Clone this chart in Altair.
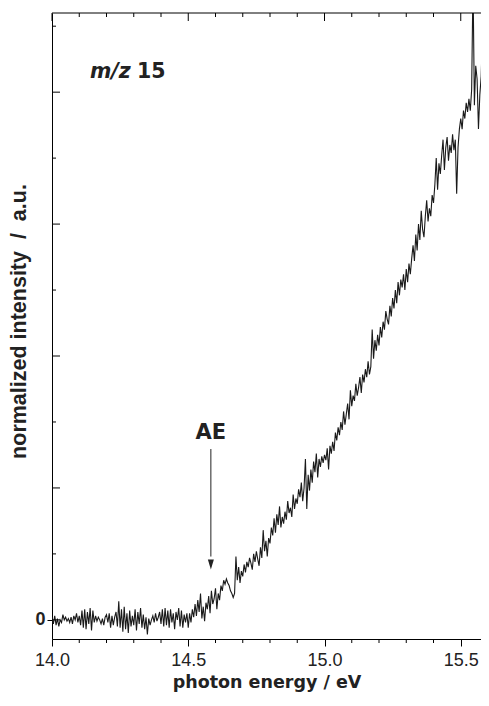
import altair as alt
import pandas as pd

# photon energy grid (scan step) and normalized intensity
energy_start = 14.0
energy_step = 0.005
intensity = [
    # 14.00 - 14.095
    0.02, -0.03, 0.03, -0.04, 0.01, -0.05, 0.00, -0.02, 0.04, 0.00,
    0.02, -0.01, 0.01, -0.02, 0.02, -0.03, 0.03, 0.00, 0.05, -0.02,
    # 14.10 - 14.195
    0.03, -0.04, 0.07, -0.06, 0.08, -0.07, 0.06, -0.03, 0.09, -0.08,
    0.07, -0.02, 0.03, -0.01, 0.02, 0.00, -0.03, 0.01, -0.04, 0.02,
    # 14.20 - 14.295
    0.04, -0.02, 0.05, -0.06, 0.03, -0.04, 0.02, 0.06, -0.05, 0.14,
    -0.06, 0.08, -0.09, 0.10, -0.07, 0.05, -0.10, 0.07, -0.05, 0.03,
    # 14.30 - 14.395
    -0.04, 0.08, -0.08, 0.06, -0.03, 0.09, -0.06, 0.04, -0.07, 0.02,
    -0.11, 0.01, -0.04, 0.00, 0.03, -0.02, 0.05, -0.01, 0.02, 0.06,
    # 14.40 - 14.495
    -0.03, 0.08, -0.05, 0.09, -0.04, 0.07, -0.06, 0.08, -0.02, 0.05,
    -0.07, 0.06, 0.00, 0.09, -0.05, 0.07, -0.06, 0.04, -0.02, 0.05,
    # 14.50 - 14.595
    -0.06, 0.05, -0.02, 0.08, 0.02, 0.12, 0.03, 0.15, 0.06, 0.20,
    0.01, 0.10, -0.01, 0.13, 0.08, 0.18, 0.05, 0.22, 0.12, 0.16,
    # 14.60 - 14.695
    0.24, 0.08, 0.20, 0.15, 0.26, 0.22, 0.30, 0.27, 0.31, 0.28,
    0.26, 0.22, 0.20, 0.17, 0.20, 0.48, 0.30, 0.40, 0.28, 0.37,
    # 14.70 - 14.795
    0.33, 0.42, 0.36, 0.44, 0.40, 0.47, 0.43, 0.38, 0.50, 0.44,
    0.52, 0.46, 0.41, 0.55, 0.47, 0.68, 0.52, 0.60, 0.48, 0.62,
    # 14.80 - 14.895
    0.58, 0.70, 0.64, 0.77, 0.66, 0.80, 0.72, 0.86, 0.70, 0.78,
    0.73, 0.82, 0.76, 0.90, 0.81, 0.85, 0.78, 0.95, 0.84, 0.92,
    # 14.90 - 14.995
    0.88, 0.99, 0.93, 1.04, 0.90, 1.00, 1.22, 0.84, 1.10, 0.98,
    1.14, 1.04, 1.20, 1.12, 1.26, 1.08, 1.22, 1.16, 1.24, 1.19,
    # 15.00 - 15.095
    1.25, 1.21, 1.30, 1.14, 1.32, 1.26, 1.35, 1.28, 1.42, 1.36,
    1.46, 1.40, 1.50, 1.44, 1.58, 1.48, 1.56, 1.64, 1.52, 1.74,
    # 15.10 - 15.195
    1.62, 1.70, 1.66, 1.79, 1.70, 1.76, 1.84, 1.72, 1.86, 1.80,
    1.90, 1.84, 1.96, 1.86, 1.92, 2.20, 1.98, 2.12, 2.04, 2.16,
    # 15.20 - 15.295
    2.08, 2.22, 2.14, 2.26, 2.20, 2.34, 2.28, 2.24, 2.38, 2.30,
    2.44, 2.36, 2.50, 2.40, 2.56, 2.46, 2.58, 2.52, 2.62, 2.50,
    # 15.30 - 15.395
    2.66, 2.56, 2.70, 2.62, 2.74, 2.84, 2.72, 2.92, 2.80, 3.00,
    2.88, 3.10, 2.96, 2.90, 3.06, 3.18, 3.02, 3.12, 3.06, 3.22,
    # 15.40 - 15.495
    3.16, 3.30, 3.50, 3.26, 3.46, 3.38, 3.52, 3.64, 3.41, 3.58,
    3.66, 3.48, 3.60, 3.54, 3.68, 3.56, 3.64, 3.23, 3.58, 3.72,
    # 15.50 - 15.595
    3.80, 3.72, 3.86, 3.80, 3.92, 3.85, 3.95, 3.86, 4.02, 4.85,
    3.90, 4.20, 4.10, 3.72, 3.98, 4.12, 4.48, 4.40, 4.32, 3.86,
    # 15.60
    4.05,
]
energy = [round(energy_start + i * energy_step, 3) for i in range(len(intensity))]

x_major = [14.0, 14.5, 15.0, 15.5]
x_minor = [14.1, 14.2, 14.3, 14.4, 14.6, 14.7, 14.8, 14.9, 15.1, 15.2, 15.3, 15.4]
y_major = [0, 1, 2, 3, 4]
y_minor = [0.5, 1.5, 2.5, 3.5, 4.5]
y_labeled = [0]

# annotations (data coordinates)
ae_label = ["AE"]
ae_energy = [14.583]
ae_text_y = [1.42]
ae_arrow_top = [1.295]
ae_arrow_bottom = [0.48]
ae_head_y = [0.42]
mz_italic = ["m/z"]
mz_number = ["15"]
mz_energy = [14.139]
mz_number_energy = [14.312]
mz_y = [4.106]

W, H = 429, 626
X_DOMAIN = [14.0, 15.5743]
Y_DOMAIN = [-0.145, 4.6]
FONT = "Liberation Sans"
WIDE = "DejaVu Sans"

xs = alt.Scale(domain=X_DOMAIN, nice=False, zero=False)
ys = alt.Scale(domain=Y_DOMAIN, nice=False, zero=False)

x_axis = alt.Axis(values=x_major, format=".1f", tickSize=7, tickColor="black",
                  tickWidth=1, domain=True, domainColor="black", grid=False,
                  labelFont=FONT, labelFontSize=18, labelColor="#222",
                  labelPadding=5, labelFlush=False,
                  title="photon energy / eV", titleFont=WIDE,
                  titleFontSize=17.5, titleFontWeight="bold", titleColor="#222",
                  titleBaseline="middle", titleY=43)
y_axis = alt.Axis(values=y_labeled, format="d", tickSize=5, tickColor="black",
                  domain=True, domainColor="black", grid=False,
                  labelFont=FONT, labelFontSize=18, labelFontWeight="bold",
                  labelColor="#222", labelPadding=2, labelFlush=False,
                  title="normalized intensity \u00a0/\u00a0 a.u.", titleFont=FONT,
                  titleFontSize=21.5, titleFontWeight="bold", titleColor="#222",
                  titleBaseline="middle", titleX=-33, titleY=308)

def X(field):
    return alt.X(field, type="quantitative", scale=xs, axis=x_axis)

def Y(field):
    return alt.Y(field, type="quantitative", scale=ys, axis=y_axis)

df = pd.DataFrame({"energy": energy, "intensity": intensity})

line = alt.Chart(df).mark_line(color="#1a1a1a", strokeWidth=1.1, clip=True).encode(
    x=X("energy"), y=Y("intensity"))

def rules_x(vals, y0, y1):
    d = pd.DataFrame({"energy": vals})
    return alt.Chart(d).mark_rule(color="black", strokeWidth=1).encode(
        x=X("energy"), y=alt.value(y0), y2=alt.value(y1))

def rules_y(vals, x0, x1):
    d = pd.DataFrame({"intensity": vals})
    return alt.Chart(d).mark_rule(color="black", strokeWidth=1).encode(
        y=Y("intensity"), x=alt.value(x0), x2=alt.value(x1))

bottom_minor = rules_x(x_minor, H, H + 4)
top_major = rules_x(x_major, 0, 8)
top_minor = rules_x(x_minor, 0, 4)
left_major = rules_y(y_major, 0, 8)
left_minor = rules_y(y_minor, 0, 4)
top_frame = alt.Chart(pd.DataFrame({"k": [0]})).mark_rule(color="black", strokeWidth=1).encode(
    x=alt.value(0), x2=alt.value(W), y=alt.value(0))

ae_df = pd.DataFrame({"label": ae_label, "energy": ae_energy, "ty": ae_text_y,
                      "top": ae_arrow_top, "bottom": ae_arrow_bottom, "head": ae_head_y})
ae_text = alt.Chart(ae_df).mark_text(font=WIDE, fontSize=21, fontWeight="bold",
                                     color="#222", baseline="middle", align="center").encode(
    x=X("energy"), y=Y("ty"), text="label:N")
ae_rule = alt.Chart(ae_df).mark_rule(color="#222", strokeWidth=1).encode(
    x=X("energy"), y=Y("top"), y2="bottom:Q")
ae_head = alt.Chart(ae_df).mark_point(shape="M -0.6 -1 L 0.6 -1 L 0 1 Z", size=100,
                                      filled=True, color="#222", opacity=1).encode(
    x=X("energy"), y=Y("head"))

mz_df = pd.DataFrame({"a": mz_italic, "b": mz_number, "xa": mz_energy,
                      "xb": mz_number_energy, "y": mz_y})
mz_a = alt.Chart(mz_df).mark_text(font=WIDE, fontSize=20.5, fontWeight="bold", fontStyle="italic",
                                  color="#222", align="left", baseline="alphabetic").encode(
    x=X("xa"), y=Y("y"), text="a:N")
mz_b = alt.Chart(mz_df).mark_text(font=WIDE, fontSize=20.5, fontWeight="bold",
                                  color="#222", align="left", baseline="alphabetic").encode(
    x=X("xb"), y=Y("y"), text="b:N")

chart = alt.layer(
    line, bottom_minor, top_major, top_minor, left_major, left_minor, top_frame,
    ae_rule, ae_head, ae_text, mz_a, mz_b,
).properties(
    width=W, height=H,
    autosize=alt.AutoSizeParams(type="none"),
    padding={"left": 44, "top": 5, "right": 0, "bottom": 53},
    background="white",
).configure_view(stroke=None)

chart.save("out.html", embed_options={"renderer": "svg", "actions": False})
